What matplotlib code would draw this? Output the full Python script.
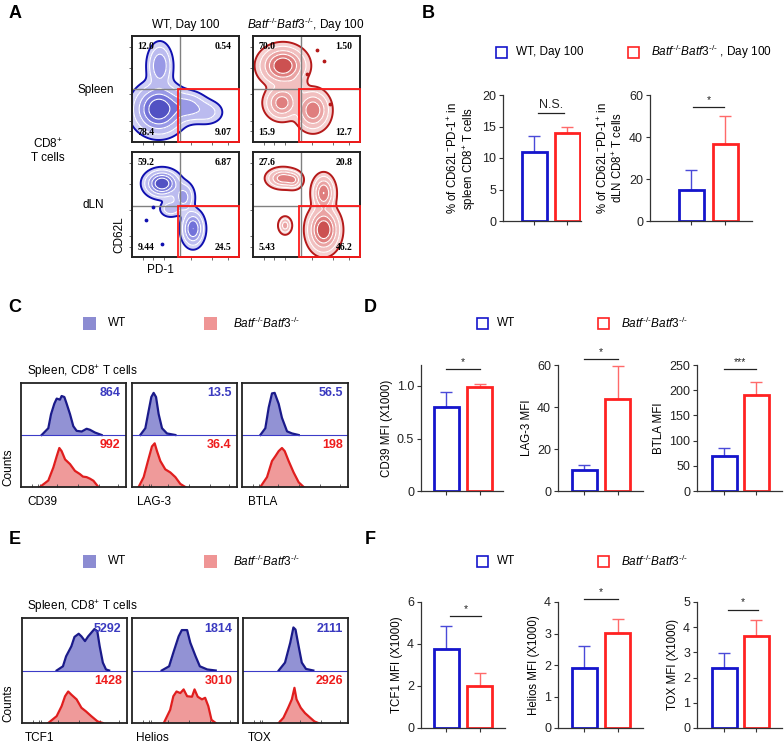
import numpy as np
import matplotlib
matplotlib.use("Agg")
import matplotlib.pyplot as plt
from matplotlib.patches import Rectangle
from matplotlib.colors import LinearSegmentedColormap

plt.rcParams['font.family'] = ['Liberation Sans', 'DejaVu Sans']
plt.rcParams['mathtext.fontset'] = 'custom'
plt.rcParams['mathtext.rm'] = 'Liberation Sans'
plt.rcParams['mathtext.it'] = 'Liberation Sans:italic'
plt.rcParams['mathtext.bf'] = 'Liberation Sans:bold'

W, H = 784, 744
fig = plt.figure(figsize=(W / 100, H / 100), dpi=100)

KO = r"$\mathit{Batf}^{\text{-/-}}\mathit{Batf3}^{\text{-/-}}$"

# ---------------- data ----------------
# Panel A quadrant percentages [UL, UR, LL, LR]
quad_wt_spleen = ["12.0", "0.54", "78.4", "9.07"]
quad_ko_spleen = ["70.0", "1.50", "15.9", "12.7"]
quad_wt_dln = ["59.2", "6.87", "9.44", "24.5"]
quad_ko_dln = ["27.6", "20.8", "5.43", "46.2"]
# population blobs: (x, y, sx, sy, weight) in gate-fraction units
blobs_wt_spleen = [(0.26, 0.72, 0.055, 0.10, 0.45), (0.25, 0.31, 0.11, 0.11, 1.0),
                   (0.52, 0.33, 0.09, 0.07, 0.35), (0.70, 0.28, 0.08, 0.06, 0.15)]
blobs_ko_spleen = [(0.28, 0.72, 0.10, 0.085, 1.0), (0.27, 0.37, 0.075, 0.075, 0.6),
                   (0.56, 0.30, 0.075, 0.09, 0.65), (0.40, 0.52, 0.05, 0.05, 0.15)]
blobs_wt_dln = [(0.28, 0.70, 0.075, 0.06, 1.0), (0.48, 0.57, 0.05, 0.07, 0.35),
                (0.57, 0.27, 0.05, 0.08, 0.7), (0.36, 0.46, 0.05, 0.04, 0.2)]
blobs_ko_dln = [(0.28, 0.75, 0.07, 0.045, 0.6), (0.38, 0.73, 0.04, 0.04, 0.35),
                (0.66, 0.61, 0.05, 0.08, 0.7), (0.66, 0.26, 0.07, 0.10, 1.0),
                (0.30, 0.30, 0.03, 0.04, 0.35)]
dots_ko_spleen_x = [0.60, 0.66, 0.50, 0.72]
dots_ko_spleen_y = [0.87, 0.76, 0.64, 0.36]
dots_wt_dln_x = [0.13, 0.28, 0.20]
dots_wt_dln_y = [0.35, 0.12, 0.48]

# Panel B
spleen_mean = [10.9, 13.9]; spleen_err = [2.6, 1.1]
dln_mean = [14.6, 36.9]; dln_err = [9.9, 13.2]
# Panel D
cd39_mean = [0.80, 0.99]; cd39_err = [0.145, 0.025]
lag3_mean = [10.0, 43.8]; lag3_err = [2.4, 15.7]
btla_mean = [70, 191]; btla_err = [16, 26]
# Panel F
tcf1_mean = [3.75, 2.0]; tcf1_err = [1.11, 0.62]
helios_mean = [1.9, 3.02]; helios_err = [0.7, 0.43]
tox_mean = [2.4, 3.65]; tox_err = [0.57, 0.64]

# Histograms (x = fraction of axis, y = fraction of half-height)
cd39_wt_x = [0.197, 0.26, 0.286, 0.317, 0.34, 0.371, 0.387, 0.413, 0.435, 0.467, 0.498, 0.53, 0.578, 0.625, 0.657, 0.705, 0.768]
cd39_wt_y = [0, 0.13, 0.40, 0.60, 0.70, 0.68, 0.75, 0.73, 0.60, 0.40, 0.17, 0.08, 0.067, 0.12, 0.10, 0.047, 0]
cd39_ko_x = [0.18, 0.26, 0.308, 0.34, 0.365, 0.387, 0.42, 0.467, 0.514, 0.56, 0.59, 0.625, 0.657, 0.69, 0.737]
cd39_ko_y = [0, 0.125, 0.375, 0.59, 0.75, 0.69, 0.53, 0.44, 0.31, 0.25, 0.20, 0.19, 0.16, 0.12, 0]
lag3_wt_x = [0.079, 0.127, 0.159, 0.184, 0.206, 0.229, 0.254, 0.286, 0.333, 0.413]
lag3_wt_y = [0, 0.13, 0.47, 0.73, 0.81, 0.73, 0.40, 0.13, 0.03, 0]
lag3_ko_x = [0.063, 0.111, 0.152, 0.19, 0.216, 0.238, 0.27, 0.317, 0.365, 0.413, 0.46, 0.508]
lag3_ko_y = [0, 0.19, 0.50, 0.78, 0.84, 0.69, 0.50, 0.34, 0.28, 0.19, 0.06, 0]
btla_wt_x = [0.173, 0.22, 0.252, 0.283, 0.308, 0.346, 0.377, 0.425, 0.472, 0.535]
btla_wt_y = [0, 0.13, 0.53, 0.80, 0.81, 0.60, 0.33, 0.07, 0.03, 0]
btla_ko_x = [0.173, 0.236, 0.283, 0.314, 0.346, 0.377, 0.403, 0.44, 0.487, 0.535, 0.582]
btla_ko_y = [0, 0.19, 0.50, 0.59, 0.69, 0.75, 0.69, 0.50, 0.28, 0.09, 0]
tcf1_wt_x = [0.33, 0.39, 0.42, 0.47, 0.50, 0.54, 0.566, 0.60, 0.63, 0.66, 0.69, 0.717, 0.74, 0.77, 0.80, 0.83]
tcf1_wt_y = [0, 0.08, 0.27, 0.46, 0.64, 0.70, 0.65, 0.56, 0.65, 0.72, 0.79, 0.75, 0.46, 0.15, 0.02, 0]
tcf1_ko_x = [0.25, 0.33, 0.377, 0.41, 0.44, 0.47, 0.52, 0.566, 0.61, 0.66, 0.72, 0.77]
tcf1_ko_y = [0, 0.13, 0.32, 0.51, 0.60, 0.54, 0.45, 0.29, 0.22, 0.13, 0.03, 0]
helios_wt_x = [0.28, 0.35, 0.39, 0.44, 0.47, 0.52, 0.55, 0.60, 0.64, 0.71, 0.79]
helios_wt_y = [0, 0.08, 0.34, 0.65, 0.77, 0.77, 0.53, 0.27, 0.08, 0.02, 0]
helios_ko_x = [0.30, 0.36, 0.39, 0.42, 0.456, 0.487, 0.52, 0.566, 0.59, 0.62, 0.66, 0.69, 0.72, 0.75, 0.79]
helios_ko_y = [0, 0.25, 0.51, 0.60, 0.57, 0.64, 0.51, 0.50, 0.64, 0.50, 0.45, 0.48, 0.32, 0.06, 0]
tox_wt_x = [0.34, 0.40, 0.45, 0.48, 0.50, 0.53, 0.56, 0.60, 0.67]
tox_wt_y = [0, 0.15, 0.53, 0.82, 0.78, 0.46, 0.15, 0.03, 0]
tox_ko_x = [0.34, 0.385, 0.43, 0.465, 0.49, 0.51, 0.55, 0.59, 0.64, 0.68, 0.716]
tox_ko_y = [0, 0.10, 0.29, 0.45, 0.67, 0.45, 0.29, 0.19, 0.10, 0.03, 0]

mfi_c = [("864", "992"), ("13.5", "36.4"), ("56.5", "198")]
mfi_e = [("5292", "1428"), ("1814", "3010"), ("2111", "2926")]

# ---------------- helpers ----------------
def px_axes(x0, y0, x1, y1):
    return fig.add_axes([x0 / W, 1 - y1 / H, (x1 - x0) / W, (y1 - y0) / H])

ov = fig.add_axes([0, 0, 1, 1])
ov.set_xlim(0, W); ov.set_ylim(H, 0); ov.axis('off')

BLUE = '#1515cc'; RED = '#ff2222'
HBLUE_L = '#1a1a8a'; HBLUE_F = '#8c8cd2'
HRED_L = '#e01e1e'; HRED_F = '#ef9595'
NUM_BLUE = '#3a3ac0'; NUM_RED = '#ee1c1c'

def letter(x, y, s):
    ov.text(x, y, s, fontsize=13, fontweight='bold', ha='center', va='center')

# ---------------- Panel A ----------------
letter(15, 13, 'A')
ov.text(186, 25, 'WT, Day 100', fontsize=8.5, ha='center', va='center')
ov.text(306, 25, KO + ', Day 100', fontsize=8.5, ha='center', va='center')
ov.text(96, 90, 'Spleen', fontsize=8.5, ha='center', va='center')
ov.text(48, 151, 'CD8$^{+}$\nT cells', fontsize=8.5, ha='center', va='center', linespacing=1.1)
ov.text(93, 205, 'dLN', fontsize=8.5, ha='center', va='center')
ov.text(119, 235, 'CD62L', fontsize=8.5, ha='center', va='center', rotation=90)
ov.text(160, 270, 'PD-1', fontsize=8.5, ha='center', va='center')

cm_b = LinearSegmentedColormap.from_list('b', ['#d2d2f6', '#6a6ada', '#2a2ab0'])
cm_r = LinearSegmentedColormap.from_list('r', ['#f7d2d2', '#e07a7a', '#bb2222'])
g = np.linspace(0, 1, 160)
GX, GY = np.meshgrid(g, g)

def flow(box, blobs, quads, cmap, edge, hline, dots=None):
    ax = px_axes(*box)
    Z = np.zeros_like(GX)
    for cx, cy, sx, sy, w in blobs:
        Z += w * np.exp(-((GX - cx) ** 2 / (2 * sx ** 2) + (GY - cy) ** 2 / (2 * sy ** 2)))
    lv = Z.max() * np.array([0.03, 0.1, 0.25, 0.45, 0.7, 1.01])
    ax.contourf(GX, GY, Z, levels=lv, cmap=cmap, alpha=0.9)
    ax.contour(GX, GY, Z, levels=lv[1:-1], colors='white', linewidths=0.8)
    ax.contour(GX, GY, Z, levels=lv[:1], colors=edge, linewidths=1.4)
    if dots is not None:
        ax.scatter(dots[0], dots[1], s=3, color=edge, zorder=3)
    ax.axvline(0.45, color='#808080', lw=1.0)
    ax.axhline(hline, color='#808080', lw=1.0)
    ax.add_patch(Rectangle((0.43, 0.0), 0.57, hline, fill=False, ec='#ff1a1a', lw=1.3, zorder=4, clip_on=False))
    tk = dict(fontsize=7, fontweight='bold', family='Liberation Serif')
    ax.text(0.05, 0.9, quads[0], ha='left', va='center', **tk)
    ax.text(0.93, 0.9, quads[1], ha='right', va='center', **tk)
    ax.text(0.05, 0.09, quads[2], ha='left', va='center', **tk)
    ax.text(0.93, 0.09, quads[3], ha='right', va='center', **tk)
    ax.set_xlim(0, 1); ax.set_ylim(0, 1)
    ax.set_xticks([0.1, 0.2, 0.3, 0.55, 0.75, 0.9]); ax.set_yticks([0.1, 0.2, 0.45, 0.7, 0.9])
    ax.set_xticklabels([]); ax.set_yticklabels([])
    ax.tick_params(length=2, width=0.6, color='#555555')
    for s in ax.spines.values():
        s.set_linewidth(1.4); s.set_color('#222222')

flow((132, 36, 239, 142), blobs_wt_spleen, quad_wt_spleen, cm_b, '#1010b0', 0.5)
flow((253, 36, 360, 142), blobs_ko_spleen, quad_ko_spleen, cm_r, '#b51a1a', 0.5,
     (dots_ko_spleen_x, dots_ko_spleen_y))
flow((132, 152, 239, 257), blobs_wt_dln, quad_wt_dln, cm_b, '#1010b0', 0.49,
     (dots_wt_dln_x, dots_wt_dln_y))
flow((253, 152, 360, 257), blobs_ko_dln, quad_ko_dln, cm_r, '#b51a1a', 0.49)

# ---------------- legends ----------------
def legend_open(y, x_wt, x_ko, wt_label, ko_label):
    ov.add_patch(Rectangle((x_wt, y - 5.5), 11, 11, fill=False, ec=BLUE, lw=1.2))
    ov.text(x_wt + 20, y, wt_label, fontsize=8.5, va='center', ha='left')
    ov.add_patch(Rectangle((x_ko, y - 5.5), 11, 11, fill=False, ec=RED, lw=1.2))
    ov.text(x_ko + 23, y, ko_label, fontsize=8.5, va='center', ha='left')

def legend_filled(y, x_wt, x_ko):
    ov.add_patch(Rectangle((x_wt, y - 6), 13, 13, color=HBLUE_F, lw=0))
    ov.text(x_wt + 25, y, 'WT', fontsize=8.5, va='center', ha='left')
    ov.add_patch(Rectangle((x_ko, y - 6), 13, 13, color=HRED_F, lw=0))
    ov.text(x_ko + 29, y, KO, fontsize=8.5, va='center', ha='left')

letter(428, 13, 'B')
legend_open(52, 496, 628, 'WT, Day 100', KO + ' , Day 100')

# ---------------- bar charts ----------------
def bars(box, xlim, ylim, yticks, means, errs, ylabel, sig, sig_y, sig_x=(0.0, 1.0), ticklabels=None):
    ax = px_axes(*box)
    x = np.arange(len(means))
    cols = [BLUE, RED]
    errc = ['#4a4ad8', '#ff6a6a']
    for i in range(len(means)):
        ax.bar(x[i], means[i], width=0.76, fill=False, edgecolor=cols[i], linewidth=2.0, zorder=2)
        ax.errorbar(x[i], means[i], yerr=[[0], [errs[i]]], fmt='none', ecolor=errc[i],
                    elinewidth=1.0, capsize=4.5, capthick=1.0, zorder=1)
    ax.set_xlim(*xlim); ax.set_ylim(*ylim)
    ax.set_yticks(yticks)
    if ticklabels is not None:
        ax.set_yticklabels(ticklabels)
    ax.set_xticks(x); ax.set_xticklabels([])
    for s in ['top', 'right']:
        ax.spines[s].set_visible(False)
    for s in ['left', 'bottom']:
        ax.spines[s].set_linewidth(0.9); ax.spines[s].set_color('#333333')
    ax.tick_params(axis='both', length=3, width=0.8, colors='#333333', labelsize=9, pad=2)
    ax.tick_params(axis='y', labelcolor='#222222')
    ax.set_ylabel(ylabel, fontsize=8.3, labelpad=3, linespacing=1.1)
    ax.plot([sig_x[0], sig_x[1]], [sig_y, sig_y], color='#222222', lw=0.9, clip_on=False)
    ax.annotate(sig, xy=((sig_x[0] + sig_x[1]) / 2, sig_y), xytext=(0, 1.5),
                textcoords='offset points', ha='center', va='bottom',
                fontsize=9 if sig == 'N.S.' else 7.5, color='#222222', annotation_clip=False)
    ax.patch.set_alpha(0)
    return ax

bars((503, 95, 581, 221), (-0.96, 1.42), (0, 20), [0, 5, 10, 15, 20], spleen_mean, spleen_err,
     '% of CD62L$^{-}$PD-1$^{+}$ in\nspleen CD8$^{+}$ T cells', 'N.S.', 17.2, (0.1, 0.9))
bars((650, 95, 752, 221), (-1.22, 1.78), (0, 60), [0, 20, 40, 60], dln_mean, dln_err,
     '% of CD62L$^{-}$PD-1$^{+}$ in\ndLN CD8$^{+}$ T cells', '*', 54.1, (0.05, 0.95))

letter(370, 308, 'D')
legend_open(323, 477, 598, 'WT', KO)
bars((421, 365, 503, 491), (-0.77, 1.71), (0, 1.2), [0, 0.5, 1.0], cd39_mean, cd39_err,
     'CD39 MFI (X1000)', '*', 1.16, (0.0, 1.0), ['0', '0.5', '1.0'])
bars((558, 365, 643, 491), (-0.8, 1.77), (0, 60), [0, 20, 40, 60], lag3_mean, lag3_err,
     'LAG-3 MFI', '*', 62.9)
bars((697, 365, 782, 491), (-0.86, 1.8), (0, 250), [0, 50, 100, 150, 200, 250], btla_mean, btla_err,
     'BTLA MFI', '***', 242)

letter(370, 540, 'F')
legend_open(561, 477, 598, 'WT', KO)
bars((421, 602, 505, 728), (-0.77, 1.77), (0, 6), [0, 2, 4, 6], tcf1_mean, tcf1_err,
     'TCF1 MFI (X1000)', '*', 5.33, (0.1, 1.05))
bars((558, 602, 643, 728), (-0.8, 1.77), (0, 4), [0, 1, 2, 3, 4], helios_mean, helios_err,
     'Helios MFI (X1000)', '*', 4.08)
bars((697, 602, 782, 728), (-0.86, 1.8), (0, 5), [0, 1, 2, 3, 4, 5], tox_mean, tox_err,
     'TOX MFI (X1000)', '*', 4.7, (0.1, 1.05))

# ---------------- histograms ----------------
def hist_box(box, wx, wy, kx, ky, nums, label, label_x, label_y):
    ax = px_axes(*box)
    ax.fill_between(wx, 1, 1 + np.array(wy), color=HBLUE_F, lw=0, alpha=0.95)
    ax.plot(wx, 1 + np.array(wy), color=HBLUE_L, lw=1.6)
    ax.axhline(1, color='#3c3cc8', lw=0.8)
    ax.fill_between(kx, 0, ky, color=HRED_F, lw=0, alpha=0.95)
    ax.plot(kx, ky, color=HRED_L, lw=1.6)
    ax.set_xlim(0, 1); ax.set_ylim(0, 2)
    ax.set_xticks([0.1, 0.16, 0.18, 0.34, 0.54, 0.74, 0.92]); ax.set_xticklabels([])
    ax.set_yticks([])
    ax.tick_params(axis='x', direction='in', length=2, width=0.6, color='#444444')
    for s in ax.spines.values():
        s.set_linewidth(1.3); s.set_color('#222222')
    ax.text(0.95, 1.8, nums[0], ha='right', va='center', fontsize=9, fontweight='bold', color=NUM_BLUE)
    ax.text(0.95, 0.8, nums[1], ha='right', va='center', fontsize=9, fontweight='bold', color=NUM_RED)
    ov.text(label_x, label_y, label, fontsize=8.5, ha='left', va='center')

letter(15, 308, 'C')
legend_filled(323, 83, 204)
ov.text(27, 372, 'Spleen, CD8$^{+}$ T cells', fontsize=8.5, ha='left', va='center')
ov.text(8, 467, 'Counts', fontsize=8.5, ha='center', va='center', rotation=90)
hist_box((21, 383, 126, 487), cd39_wt_x, cd39_wt_y, cd39_ko_x, cd39_ko_y, mfi_c[0], 'CD39', 27, 502)
hist_box((132, 383, 237, 487), lag3_wt_x, lag3_wt_y, lag3_ko_x, lag3_ko_y, mfi_c[1], 'LAG-3', 137, 502)
hist_box((242, 383, 348, 487), btla_wt_x, btla_wt_y, btla_ko_x, btla_ko_y, mfi_c[2], 'BTLA', 248, 502)

letter(15, 540, 'E')
legend_filled(561, 83, 204)
ov.text(27, 607, 'Spleen, CD8$^{+}$ T cells', fontsize=8.5, ha='left', va='center')
ov.text(8, 703, 'Counts', fontsize=8.5, ha='center', va='center', rotation=90)
hist_box((22, 618, 127, 723), tcf1_wt_x, tcf1_wt_y, tcf1_ko_x, tcf1_ko_y, mfi_e[0], 'TCF1', 25, 738)
hist_box((132, 618, 238, 723), helios_wt_x, helios_wt_y, helios_ko_x, helios_ko_y, mfi_e[1], 'Helios', 136, 738)
hist_box((243, 618, 348, 723), tox_wt_x, tox_wt_y, tox_ko_x, tox_ko_y, mfi_e[2], 'TOX', 248, 738)

fig.savefig('out.png', dpi=100)
